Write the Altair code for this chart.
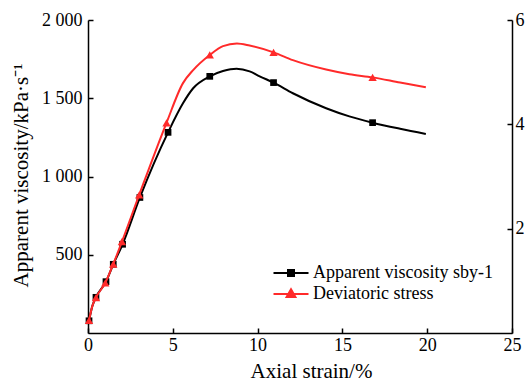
import altair as alt
import pandas as pd

# ---- data ----
strain_visc = [0.06, 0.25, 0.47, 1.06, 1.49, 2.04, 3.06, 4.72, 5.6, 6.2, 7.18, 7.96, 8.76,
               9.53, 10.12, 10.94, 12.08, 14.04, 15.41, 16.78, 18.4, 19.92]
viscosity = [78, 170, 228, 328, 439, 567, 866, 1282, 1468, 1564, 1640, 1674, 1689,
             1672, 1640, 1600, 1532, 1436, 1384, 1344, 1305, 1272]
visc_marker_strain = [0.06, 0.47, 1.06, 1.49, 2.04, 3.06, 4.72, 7.18, 10.94, 16.78]

strain_stress = [0.06, 0.25, 0.47, 1.02, 1.49, 2.0, 3.02, 4.63, 5.6, 6.2, 7.18, 7.96, 8.78,
                 9.53, 10.94, 12.08, 14.04, 15.41, 16.78, 18.4, 19.92]
stress = [0.24, 0.51, 0.68, 0.96, 1.32, 1.75, 2.65, 4.03, 4.79, 5.04, 5.33, 5.50, 5.55,
          5.51, 5.38, 5.23, 5.05, 4.96, 4.90, 4.80, 4.71]
stress_marker_strain = [0.06, 0.47, 1.02, 1.49, 2.0, 3.02, 4.63, 7.18, 10.94, 16.78]

series_names = ["Apparent viscosity sby-1", "Deviatoric stress"]
x_ticks = [0, 5, 10, 15, 20, 25]
visc_ticks = [500, 1000, 1500, 2000]
stress_ticks = [2, 4, 6]

FONT = "Liberation Serif"
RED = "#ff2a2a"
BLACK = "#000000"

df_v = pd.DataFrame({"strain": strain_visc, "value": viscosity})
df_vm = df_v[df_v["strain"].isin(visc_marker_strain)]
df_s = pd.DataFrame({"strain": strain_stress, "stress": stress})
df_sm = df_s[df_s["strain"].isin(stress_marker_strain)]
df_leg = pd.DataFrame({"series": series_names})

inward = alt.ExprRef(expr="-5")

x_enc = alt.X(
    "strain:Q",
    scale=alt.Scale(domain=[0, 25], nice=False),
    axis=alt.Axis(values=x_ticks, title="Axial strain/%", tickSize=inward,
                  labelPadding=8, labelFlush=False, titleX=223, titleY=44,
                  titleBaseline="alphabetic"),
)

y_left = alt.Y(
    "value:Q",
    scale=alt.Scale(domain=[0, 2000], nice=False),
    axis=alt.Axis(orient="left", values=visc_ticks,
                  labelExpr="replace(format(datum.value, ','), ',', ' ')",
                  title="Apparent viscosity/kPa·s⁻¹", tickSize=inward, labelPadding=11,
                  titleX=-61, titleY=155, titleAngle=270, titleAlign="center",
                  titleBaseline="alphabetic"),
)

y_right = alt.Y(
    "stress:Q",
    scale=alt.Scale(domain=[0, 6], nice=False),
    axis=alt.Axis(orient="right", values=stress_ticks, title=None, tickSize=inward,
                  labelPadding=8),
)

black_line = alt.Chart(df_v).mark_line(color=BLACK, strokeWidth=2, interpolate="monotone").encode(
    x=x_enc, y=y_left)
black_pts = alt.Chart(df_vm).mark_point(shape="square", filled=True, size=45, color=BLACK,
                                        opacity=1).encode(x=x_enc, y=y_left)

leg_paths = ["M-1.75,0H1.75M-0.3,-0.3H0.3V0.3H-0.3Z",
             "M-1.75,0H1.75M0,-0.47L0.44,0.3H-0.44Z"]
leg = alt.Legend(title=None, orient="none", legendX=192, legendY=242, labelFont=FONT,
                 labelFontSize=18, labelColor="black", labelOffset=11, rowPadding=1,
                 labelLimit=400, padding=0, symbolSize=400, symbolStrokeWidth=2)
color_scale = alt.Scale(domain=series_names, range=[BLACK, RED])
legend_layer = alt.Chart(df_leg).mark_point(filled=True, opacity=1).encode(
    fill=alt.Fill("series:N", scale=color_scale, legend=leg),
    stroke=alt.Stroke("series:N", scale=color_scale, legend=leg),
    shape=alt.Shape("series:N", scale=alt.Scale(domain=series_names, range=leg_paths), legend=leg),
).transform_filter("false")

left = alt.layer(black_line, black_pts, legend_layer)

red_line = alt.Chart(df_s).mark_line(color=RED, strokeWidth=2, interpolate="monotone").encode(
    x=x_enc, y=y_right)
red_pts = alt.Chart(df_sm).mark_point(shape="triangle-up", filled=True, size=70, color=RED,
                                      opacity=1).encode(x=x_enc, y=y_right)
right = alt.layer(red_line, red_pts)

chart = alt.layer(left, right).resolve_scale(y="independent").properties(
    width=424, height=313,
    autosize=alt.AutoSizeParams(type="none"),
    padding={"left": 88, "top": 20, "right": 13, "bottom": 49},
    background="white",
).configure_axis(
    labelFont=FONT, labelFontSize=18, labelColor="black",
    titleFont=FONT, titleFontSize=21, titleFontWeight="normal", titleColor="black",
    domainColor="black", domainWidth=1.5, tickColor="black", tickWidth=1.5, grid=False,
).configure_view(strokeWidth=0)

chart.save("out.html", embed_options={"renderer": "svg", "actions": False})
